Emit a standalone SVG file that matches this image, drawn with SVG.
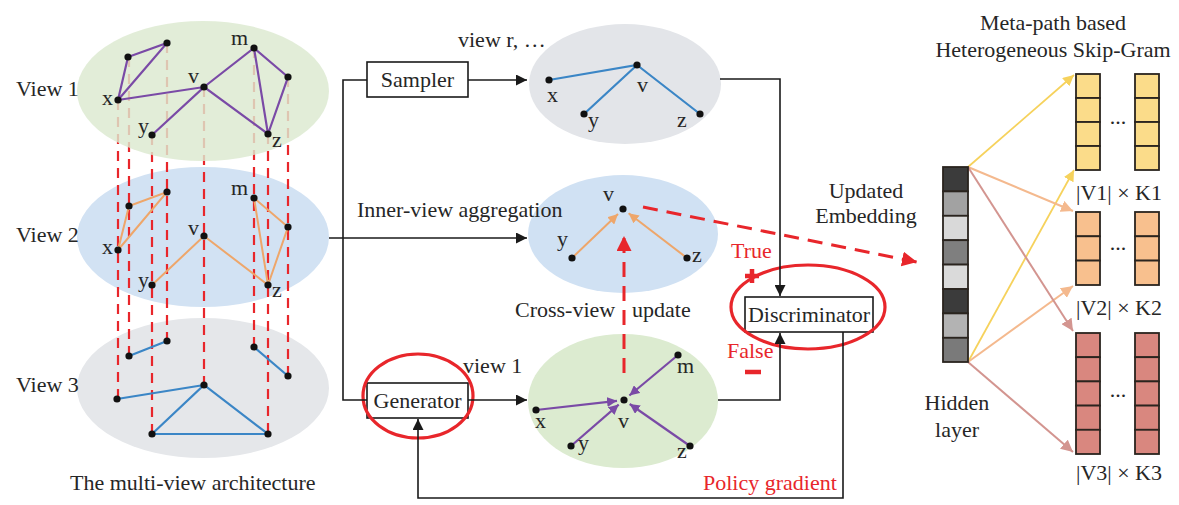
<svg xmlns="http://www.w3.org/2000/svg" width="1179" height="505" viewBox="0 0 1179 505">
<defs>
<style>
text{font-family:"Liberation Serif","Times New Roman",serif;fill:#262626;font-size:22px}
.c{text-anchor:middle}
.red{fill:#e8262b}
.box{fill:#fff;stroke:#1a1a1a;stroke-width:1.6}
.conn{fill:none;stroke:#1a1a1a;stroke-width:1.6}
.pe{stroke:#7a4aa6;stroke-width:2.2;fill:none}
.oe{stroke:#eea66a;stroke-width:2;fill:none}
.be{stroke:#3b86c6;stroke-width:2.2;fill:none}
.vd{stroke:#e8262b;stroke-width:2.2;stroke-dasharray:10 7;fill:none}
.rd{stroke:#e8262b;stroke-width:3;stroke-dasharray:15 9;fill:none}
.nd{fill:#111}
.ring{fill:none;stroke:#e8262b;stroke-width:3.2}
.cell{stroke:#2a241e;stroke-width:1.8}
.ya{stroke:#f6d25c;stroke-width:1.8;fill:none}
.oa{stroke:#f4b98e;stroke-width:2;fill:none}
.pa{stroke:#d39590;stroke-width:2;fill:none}
</style>
<marker id="ab" viewBox="0 0 10 10" refX="10" refY="5" markerWidth="11" markerHeight="11" orient="auto" markerUnits="userSpaceOnUse"><path d="M0,0 L10,5 L0,10 z" fill="#1a1a1a"/></marker>
<marker id="ap" viewBox="0 0 10 10" refX="10" refY="5" markerWidth="10" markerHeight="10" orient="auto" markerUnits="userSpaceOnUse"><path d="M0,0 L10,5 L0,10 z" fill="#7a4aa6"/></marker>
<marker id="ao" viewBox="0 0 10 10" refX="10" refY="5" markerWidth="10" markerHeight="10" orient="auto" markerUnits="userSpaceOnUse"><path d="M0,0 L10,5 L0,10 z" fill="#eea66a"/></marker>
<marker id="ar" viewBox="0 0 10 10" refX="10" refY="5" markerWidth="15" markerHeight="15" orient="auto" markerUnits="userSpaceOnUse"><path d="M0,0 L10,5 L0,10 z" fill="#e8262b"/></marker>
<marker id="ay" viewBox="0 0 10 10" refX="10" refY="5" markerWidth="11" markerHeight="11" orient="auto" markerUnits="userSpaceOnUse"><path d="M0,0 L10,5 L0,10 z" fill="#f6d25c"/></marker>
<marker id="aor" viewBox="0 0 10 10" refX="10" refY="5" markerWidth="12" markerHeight="12" orient="auto" markerUnits="userSpaceOnUse"><path d="M0,0 L10,5 L0,10 z" fill="#f4b98e"/></marker>
<marker id="apk" viewBox="0 0 10 10" refX="10" refY="5" markerWidth="12" markerHeight="12" orient="auto" markerUnits="userSpaceOnUse"><path d="M0,0 L10,5 L0,10 z" fill="#d39590"/></marker>
</defs>
<rect width="1179" height="505" fill="#fff"/>

<!-- multi-view architecture -->
<g id="view2-plane"><ellipse cx="203" cy="237" rx="126" ry="70" fill="#d2e2f3"/></g>
<g id="view3-plane"><ellipse cx="203" cy="388" rx="126" ry="70" fill="#e5e7ea"/></g>
<g id="cross-links">
<path class="vd" d="M118,100V399M129,57V356M152,135V434M167,43V341M204,87V385M254,48V347M268,134V434M288,77V376"/>
</g>
<g id="view1-plane"><ellipse cx="203" cy="91" rx="126" ry="70" fill="#dce9cf" fill-opacity="0.82"/></g>

<g id="view1">
<text x="16" y="96">View 1</text>
<path class="pe" d="M118,100L128,57L167,43Z M118,100L204,87L152,135 M204,87L254,48L268,134Z M254,48L288,77L268,134"/>
<g class="nd"><circle cx="118" cy="100" r="3.6"/><circle cx="128" cy="57" r="3.6"/><circle cx="167" cy="43" r="3.6"/><circle cx="204" cy="87" r="3.6"/><circle cx="254" cy="48" r="3.6"/><circle cx="288" cy="77" r="3.6"/><circle cx="152" cy="135" r="3.6"/><circle cx="268" cy="134" r="3.6"/></g>
<text x="102" y="105">x</text><text x="138" y="133">y</text><text x="188" y="83">v</text><text x="231" y="45">m</text><text x="272" y="147">z</text>
</g>

<g id="view2">
<text x="16" y="242">View 2</text>
<path class="oe" d="M118,250L129,206L167,192Z M152,285L204,236L268,285 M254,198L268,285L288,227Z"/>
<g class="nd"><circle cx="118" cy="250" r="3.6"/><circle cx="129" cy="206" r="3.6"/><circle cx="167" cy="192" r="3.6"/><circle cx="204" cy="236" r="3.6"/><circle cx="254" cy="198" r="3.6"/><circle cx="288" cy="227" r="3.6"/><circle cx="152" cy="285" r="3.6"/><circle cx="268" cy="285" r="3.6"/></g>
<text x="102" y="254">x</text><text x="138" y="287">y</text><text x="188" y="235">v</text><text x="231" y="195">m</text><text x="272" y="297">z</text>
</g>

<g id="view3">
<text x="16" y="392">View 3</text>
<path class="be" d="M129,356L167,341 M254,347L288,376 M117,399L204,385 M152,434L204,385L268,434L152,434"/>
<g class="nd"><circle cx="129" cy="356" r="3.6"/><circle cx="167" cy="341" r="3.6"/><circle cx="254" cy="347" r="3.6"/><circle cx="288" cy="376" r="3.6"/><circle cx="204" cy="385" r="3.6"/><circle cx="117" cy="399" r="3.6"/><circle cx="152" cy="434" r="3.6"/><circle cx="268" cy="434" r="3.6"/></g>
</g>
<text x="70" y="490">The multi-view architecture</text>

<!-- middle graphs -->
<g id="view-r">
<ellipse cx="625" cy="84" rx="96" ry="60" fill="#e3e5e9"/>
<text x="458" y="47">view r, …</text>
<path class="be" d="M549,80L637,65L584,114 M637,65L700,114"/>
<g class="nd"><circle cx="549" cy="80" r="3.6"/><circle cx="637" cy="65" r="3.6"/><circle cx="584" cy="114" r="3.6"/><circle cx="700" cy="114" r="3.6"/></g>
<text x="547" y="102">x</text><text x="637" y="92">v</text><text x="588" y="127">y</text><text x="677" y="127">z</text>
</g>

<g id="aggregated-view">
<ellipse cx="623" cy="234" rx="95" ry="59" fill="#d0e1f3"/>
<text x="357" y="217">Inner-view aggregation</text>
<path class="oe" d="M572,258L618,214" marker-end="url(#ao)"/>
<path class="oe" d="M687,258L628.6,213.3" marker-end="url(#ao)"/>
<g class="nd"><circle cx="623" cy="209" r="3.6"/><circle cx="572" cy="258" r="3.6"/><circle cx="687" cy="258" r="3.6"/></g>
<text x="603" y="201">v</text><text x="557" y="246">y</text><text x="692" y="262">z</text>
<text x="515" y="317">Cross-view</text><text x="632" y="317">update</text>
</g>

<g id="view1-sample">
<ellipse cx="623" cy="401" rx="95" ry="67" fill="#dcebd0"/>
<text x="463" y="373">view 1</text>
<path class="pe" d="M536,410L617,400.8" marker-end="url(#ap)"/>
<path class="pe" d="M571,446L618.7,404.6" marker-end="url(#ap)"/>
<path class="pe" d="M678,355L629.4,395.5" marker-end="url(#ap)"/>
<path class="pe" d="M690,446L629.7,404" marker-end="url(#ap)"/>
<g class="nd"><circle cx="624" cy="400" r="3.6"/><circle cx="678" cy="355" r="3.6"/><circle cx="536" cy="410" r="3.6"/><circle cx="571" cy="446" r="3.6"/><circle cx="690" cy="446" r="3.6"/></g>
<text x="677" y="373">m</text><text x="535" y="428">x</text><text x="618" y="428">v</text><text x="578" y="450">y</text><text x="677" y="458">z</text>
</g>

<g id="sampler">
<rect class="box" x="367" y="62" width="101" height="35"/>
<text class="c" x="417.5" y="87">Sampler</text>
</g>

<g id="generator">
<rect class="box" x="367" y="383" width="101" height="35"/>
<text class="c" x="417.5" y="408">Generator</text>
<ellipse class="ring" cx="418" cy="396" rx="55" ry="42"/>
</g>

<g id="discriminator">
<rect class="box" x="745" y="297" width="128" height="35"/>
<text class="c" x="809" y="322">Discriminator</text>
<ellipse class="ring" cx="808" cy="307" rx="77" ry="42"/>
<text class="red" x="731" y="258">True</text>
<path d="M745,276H759M752,269V283" stroke="#e8262b" stroke-width="4.5"/>
<text class="red" x="727" y="358">False</text>
<path d="M745,372H761" stroke="#e8262b" stroke-width="4.5"/>
</g>

<g id="connectors">
<path class="conn" d="M367,80H343V400H367"/>
<path class="conn" d="M329,238H527" marker-end="url(#ab)"/>
<path class="conn" d="M468,80H527" marker-end="url(#ab)"/>
<path class="conn" d="M468,400H527" marker-end="url(#ab)"/>
<path class="conn" d="M720,79H780V296" marker-end="url(#ab)"/>
<path class="conn" d="M718,400H780V333" marker-end="url(#ab)"/>
<path class="conn" d="M843,332V498H418V419" marker-end="url(#ab)"/>
<path class="rd" d="M624,373V236" marker-end="url(#ar)"/>
<path class="rd" d="M643,207L917,262" marker-end="url(#ar)"/>
<path class="ya" d="M968,167L1074,75" marker-end="url(#ay)"/>
<path class="ya" d="M968,362L1074,170" marker-end="url(#ay)"/>
<path class="oa" d="M968,167L1073,211" marker-end="url(#aor)"/>
<path class="oa" d="M968,362L1073,286" marker-end="url(#aor)"/>
<path class="pa" d="M968,167L1073,331" marker-end="url(#apk)"/>
<path class="pa" d="M968,362L1073,452" marker-end="url(#apk)"/>
</g>
<text class="red" x="703" y="490">Policy gradient</text>

<g id="updated-embedding">
<text class="c" x="866" y="198">Updated</text>
<text class="c" x="866" y="223">Embedding</text>
</g>

<g id="hidden-layer">
<g class="cell">
<rect x="943" y="167" width="25" height="24.4" fill="#3b3b3b"/>
<rect x="943" y="191.4" width="25" height="24.4" fill="#a2a2a2"/>
<rect x="943" y="215.8" width="25" height="24.4" fill="#d9d9d9"/>
<rect x="943" y="240.2" width="25" height="24.4" fill="#7f7f7f"/>
<rect x="943" y="264.6" width="25" height="24.4" fill="#dadada"/>
<rect x="943" y="289" width="25" height="24.4" fill="#3b3b3b"/>
<rect x="943" y="313.4" width="25" height="24.4" fill="#b3b3b3"/>
<rect x="943" y="337.8" width="25" height="24.2" fill="#7a7a7a"/>
</g>
<text class="c" x="957" y="410">Hidden</text>
<text class="c" x="957" y="437">layer</text>
</g>

<g id="skip-gram">
<text class="c" x="1053" y="30">Meta-path based</text>
<text class="c" x="1053" y="57">Heterogeneous Skip-Gram</text>
</g>

<g id="block-v1">
<g class="cell" fill="#fbdc8a">
<rect x="1076" y="74" width="24" height="24"/><rect x="1076" y="98" width="24" height="24"/><rect x="1076" y="122" width="24" height="24"/><rect x="1076" y="146" width="24" height="24"/>
<rect x="1135" y="74" width="24" height="24"/><rect x="1135" y="98" width="24" height="24"/><rect x="1135" y="122" width="24" height="24"/><rect x="1135" y="146" width="24" height="24"/>
</g>
<text class="c" x="1118" y="124">...</text>
<text class="c" x="1119" y="200">|V1| × K1</text>
</g>

<g id="block-v2">
<g class="cell" fill="#f8c08e">
<rect x="1076" y="212" width="24" height="24.3"/><rect x="1076" y="236.3" width="24" height="24.3"/><rect x="1076" y="260.6" width="24" height="24.4"/>
<rect x="1135" y="212" width="24" height="24.3"/><rect x="1135" y="236.3" width="24" height="24.3"/><rect x="1135" y="260.6" width="24" height="24.4"/>
</g>
<text class="c" x="1118" y="250">...</text>
<text class="c" x="1119" y="315">|V2| × K2</text>
</g>

<g id="block-v3">
<g class="cell" fill="#d9877f">
<rect x="1076" y="333" width="24" height="24.2"/><rect x="1076" y="357.2" width="24" height="24.2"/><rect x="1076" y="381.4" width="24" height="24.2"/><rect x="1076" y="405.6" width="24" height="24.2"/><rect x="1076" y="429.8" width="24" height="24.2"/>
<rect x="1135" y="333" width="24" height="24.2"/><rect x="1135" y="357.2" width="24" height="24.2"/><rect x="1135" y="381.4" width="24" height="24.2"/><rect x="1135" y="405.6" width="24" height="24.2"/><rect x="1135" y="429.8" width="24" height="24.2"/>
</g>
<text class="c" x="1118" y="397">...</text>
<text class="c" x="1119" y="480">|V3| × K3</text>
</g>
</svg>
